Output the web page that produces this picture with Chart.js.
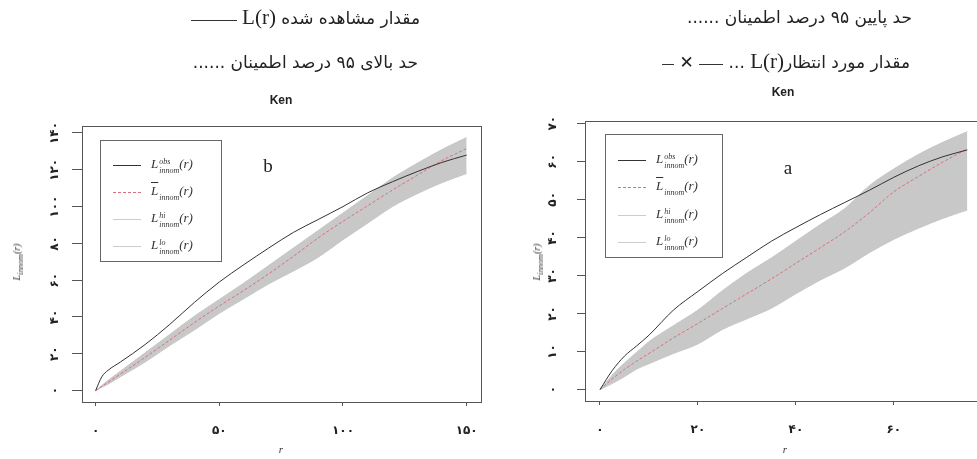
<!DOCTYPE html>
<html>
<head>
<meta charset="utf-8">
<script src="https://cdn.jsdelivr.net/npm/chart.js@4.4.1/dist/chart.umd.min.js"></script>
<style>
  body { margin: 0; background: #fff; }
  #page { position: relative; width: 977px; height: 459px; overflow: hidden; background: #fff; }
  canvas { position: absolute; top: 0; }
  .hdr { position: absolute; direction: rtl; font-family: "DejaVu Sans", sans-serif; font-size: 17px; color: #222; white-space: nowrap; line-height: 22px; }
  .hdr bdi { font-family: "Liberation Serif", serif; font-size: 21px; }
  .dots { letter-spacing: 3px; }
  .rule { display: inline-block; width: 46px; border-bottom: 1px solid #333; vertical-align: 3px; }
  .ken { position: absolute; font-family: "Liberation Sans", Arial, sans-serif; font-weight: bold; font-size: 12px; color: #222; transform: translate(-50%, -50%); }
  .tag { position: absolute; font-family: "Liberation Serif", serif; font-size: 19px; color: #222; transform: translate(-50%, -50%); }
  .leg { position: absolute; border: 1px solid #666; box-sizing: border-box; }
  .row { position: absolute; left: 0; height: 24px; }
  .smp { position: absolute; width: 28px; top: 11px; border-top: 1px solid #333; }
  .lab { position: absolute; font-family: "Liberation Serif", serif; font-style: italic; font-size: 13px; color: #333; white-space: nowrap; top: 2px; }
  .lab .st { display: inline-block; vertical-align: -5px; line-height: 9px; font-size: 8px; margin-left: 1px; }
  .lab .st span { display: block; }
  .ytl { position: absolute; font-family: "Liberation Serif", serif; font-style: italic; font-size: 10px; color: #333; transform: translate(-50%, -50%) rotate(-90deg); white-space: nowrap; }
  .xtl { position: absolute; font-family: "Liberation Serif", serif; font-style: italic; font-size: 11px; color: #333; transform: translate(-50%, -50%); }
</style>
</head>
<body>
<div id="page">
  <canvas id="chartB" width="488" height="459" style="left:0"></canvas>
  <canvas id="chartA" width="500" height="459" style="left:488px"></canvas>

  <div class="hdr" style="right:557px; top:6px">مقدار مشاهده شده <bdi dir="ltr">L(r)</bdi> <span class="rule"></span></div>
  <div class="hdr" style="right:559px; top:51px">حد بالای ۹۵ درصد اطمینان <span class="dots">......</span></div>
  <div class="hdr" style="right:65px; top:6px">حد پایین ۹۵ درصد اطمینان <span class="dots">......</span></div>
  <div class="hdr" style="right:67px; top:50px">مقدار مورد انتظار<bdi dir="ltr">L(r)</bdi> ... <span class="rule" style="width:24px"></span> ✕ <span class="rule" style="width:12px"></span></div>

  <div class="ken" style="left:281px; top:100px">Ken</div>
  <div class="ken" style="left:783px; top:92px">Ken</div>
  <div class="tag" style="left:268px; top:166px">b</div>
  <div class="tag" style="left:788px; top:168px">a</div>

  <div class="ytl" style="left:18px; top:262px">L<sub>innom</sub>(r)</div>
  <div class="ytl" style="left:538px; top:262px">L<sub>innom</sub>(r)</div>
  <div class="xtl" style="left:281px; top:449px">r</div>
  <div class="xtl" style="left:785px; top:449px">r</div>

  <div class="leg" style="left:100px; top:140px; width:122px; height:122px">
    <div class="row" style="top:13px"><div class="smp" style="left:12px"></div><div class="lab" style="left:50px">L<span class="st"><span>obs</span><span>innom</span></span>(r)</div></div>
    <div class="row" style="top:40px"><div class="smp" style="left:12px; border-top:1px dashed #d9707a"></div><div class="lab" style="left:50px"><span style="text-decoration:overline">L</span><span class="st"><span>&nbsp;</span><span>innom</span></span>(r)</div></div>
    <div class="row" style="top:67px"><div class="smp" style="left:12px; border-color:#ccc"></div><div class="lab" style="left:50px">L<span class="st"><span>hi</span><span>innom</span></span>(r)</div></div>
    <div class="row" style="top:94px"><div class="smp" style="left:12px; border-color:#ccc"></div><div class="lab" style="left:50px">L<span class="st"><span>lo</span><span>innom</span></span>(r)</div></div>
  </div>
  <div class="leg" style="left:605px; top:134px; width:118px; height:124px">
    <div class="row" style="top:14px"><div class="smp" style="left:12px"></div><div class="lab" style="left:50px">L<span class="st"><span>obs</span><span>innom</span></span>(r)</div></div>
    <div class="row" style="top:41px"><div class="smp" style="left:12px; border-top:1px dashed #d9707a"></div><div class="lab" style="left:50px"><span style="text-decoration:overline">L</span><span class="st"><span>&nbsp;</span><span>innom</span></span>(r)</div></div>
    <div class="row" style="top:69px"><div class="smp" style="left:12px; border-color:#ccc"></div><div class="lab" style="left:50px">L<span class="st"><span>hi</span><span>innom</span></span>(r)</div></div>
    <div class="row" style="top:96px"><div class="smp" style="left:12px; border-color:#ccc"></div><div class="lab" style="left:50px">L<span class="st"><span>lo</span><span>innom</span></span>(r)</div></div>
  </div>
</div>

<script>
// panel b (left)
const R_B = [0, 2.5, 5, 10, 20, 30, 40, 50, 60, 70, 80, 90, 100, 110, 120, 130, 140, 150];
const OBS_B = [0, 7.5, 11, 15.5, 25, 36, 48, 59, 68.5, 77.5, 86, 93, 100, 107.5, 113.5, 119, 124, 128];
const MEAN_B = [0, 2.2, 4.5, 9, 18, 27.5, 37, 46, 54.5, 63.5, 73, 83, 92, 100.5, 109, 117, 125, 131.5];
const HI_B = [0, 2.8, 5.5, 10.5, 20.5, 30.5, 40.5, 49.5, 58.5, 68, 77.5, 87, 96.5, 106, 115.5, 123.5, 131, 137.5];
const LO_B = [0, 1.8, 3.5, 7.5, 15.5, 24.5, 33, 42, 50, 58, 65, 72.5, 82, 91, 100, 107, 113, 118];
const XTICKS_B = [0, 50, 100, 150];
const XLABELS_B = ["۰", "۵۰", "۱۰۰", "۱۵۰"];
const YTICKS_B = [0, 20, 40, 60, 80, 100, 120, 140];
const YLABELS_B = ["۰", "۲۰", "۴۰", "۶۰", "۸۰", "۱۰۰", "۱۲۰", "۱۴۰"];

// panel a (right)
const R_A = [0, 2.5, 5, 7.5, 10, 15, 20, 25, 30, 35, 40, 45, 50, 55, 60, 65, 70, 75];
const OBS_A = [0, 5, 8.8, 11.5, 14.3, 20.9, 25.8, 30.5, 34.8, 39, 42.6, 46, 49.2, 52.4, 55.8, 58.8, 61.2, 63];
const MEAN_A = [0, 2.8, 5.3, 7.5, 9.5, 13.6, 17.4, 21.3, 25.2, 29.1, 33.2, 37.3, 41.5, 46.5, 52, 56, 59.8, 63.3];
const HI_A = [0, 3.8, 7, 9.8, 12.6, 16.8, 20.9, 26, 30.6, 34.6, 39, 43.4, 47.6, 53.6, 58, 61.8, 65, 67.8];
const LO_A = [0, 1.6, 3.4, 5.4, 6.8, 9.5, 12, 15.8, 18.6, 21.4, 25.2, 28.8, 32, 36, 39.5, 42.4, 45, 47.2];
const XTICKS_A = [0, 20, 40, 60];
const XLABELS_A = ["۰", "۲۰", "۴۰", "۶۰"];
const YTICKS_A = [0, 10, 20, 30, 40, 50, 60, 70];
const YLABELS_A = ["۰", "۱۰", "۲۰", "۳۰", "۴۰", "۵۰", "۶۰", "۷۰"];

const pts = (xs, ys) => xs.map((x, i) => ({ x, y: ys[i] }));
const digitFont = { family: "DejaVu Sans", size: 12, weight: "bold" };

// R-style box + rotated y tick labels
const rBox = {
  id: "rBox",
  afterDraw(chart, args, opts) {
    const { ctx, chartArea: a } = chart;
    const y = chart.scales.y;
    ctx.save();
    ctx.strokeStyle = "#555";
    ctx.lineWidth = 1;
    ctx.strokeRect(Math.round(a.left) + 0.5, Math.round(a.top) + 0.5, Math.round(a.width), Math.round(a.height));
    ctx.fillStyle = "#222";
    ctx.font = "bold 12px 'DejaVu Sans'";
    ctx.textAlign = "center";
    ctx.textBaseline = "middle";
    y.ticks.forEach((t, i) => {
      ctx.save();
      ctx.translate(a.left - opts.offset, y.getPixelForValue(t.value));
      ctx.rotate(-Math.PI / 2);
      ctx.fillText(opts.labels[i], 0, 0);
      ctx.restore();
    });
    ctx.restore();
  },
};

function panel(el, p) {
  const line = { borderWidth: 1, pointRadius: 0, cubicInterpolationMode: "monotone" };
  return new Chart(el, {
    type: "line",
    data: {
      datasets: [
        { ...line, data: pts(p.r, p.obs), borderColor: "#333", fill: false },
        { ...line, data: pts(p.r, p.mean), borderColor: "#d9707a", borderDash: [3, 2], fill: false },
        { ...line, data: pts(p.r, p.hi), borderColor: "#c6c6c6", backgroundColor: "#c8c8c8", fill: "+1" },
        { ...line, data: pts(p.r, p.lo), borderColor: "#c6c6c6", fill: false },
      ],
    },
    options: {
      responsive: false,
      animation: false,
      events: [],
      layout: { padding: { top: p.top, right: p.padRight, bottom: 0, left: 0 } },
      plugins: {
        legend: { display: false },
        tooltip: { enabled: false },
        rBox: { offset: p.labelOffset, labels: p.ylabels },
      },
      scales: {
        x: {
          type: "linear",
          min: p.xmin,
          max: p.xmax,
          afterBuildTicks: (s) => { s.ticks = p.xticks.map((v) => ({ value: v })); },
          afterFit: (s) => { s.height = p.xHeight; s.paddingLeft = 0; s.paddingRight = 0; },
          ticks: { callback: (v, i) => p.xlabels[i], font: digitFont, color: "#222", padding: 18, maxRotation: 0 },
          grid: { drawOnChartArea: false, tickLength: 4, color: "#555" },
          border: { display: false },
        },
        y: {
          type: "linear",
          min: p.ymin,
          max: p.ymax,
          afterBuildTicks: (s) => { s.ticks = p.yticks.map((v) => ({ value: v })); },
          afterFit: (s) => { s.width = p.yWidth; s.paddingTop = 0; s.paddingBottom = 0; },
          ticks: { display: false },
          grid: { drawOnChartArea: false, tickLength: p.yTickLen, color: "#555" },
          border: { display: false },
        },
      },
    },
    plugins: [rBox],
  });
}

panel(document.getElementById("chartB"), {
  r: R_B, obs: OBS_B, mean: MEAN_B, hi: HI_B, lo: LO_B,
  xticks: XTICKS_B, xlabels: XLABELS_B, yticks: YTICKS_B, ylabels: YLABELS_B,
  xmin: -5.5, xmax: 155.8, ymin: -6.2, ymax: 143.8,
  top: 126, padRight: 7, xHeight: 57, yWidth: 82, yTickLen: 10, labelOffset: 27,
});

panel(document.getElementById("chartA"), {
  r: R_A, obs: OBS_A, mean: MEAN_A, hi: HI_A, lo: LO_A,
  xticks: XTICKS_A, xlabels: XLABELS_A, yticks: YTICKS_A, ylabels: YLABELS_A,
  xmin: -3.06, xmax: 78, ymin: -3.0, ymax: 70.6,
  top: 121, padRight: 6, xHeight: 58, yWidth: 97, yTickLen: 8, labelOffset: 32,
});
</script>
</body>
</html>
